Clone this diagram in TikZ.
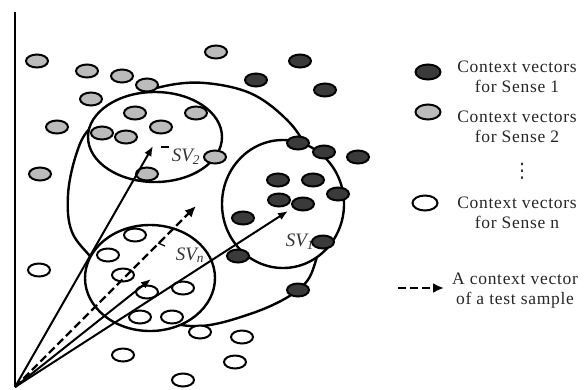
\documentclass[tikz,border=0pt]{standalone}
\usepackage{fontspec}
\setmainfont{Liberation Serif}
\newfontfamily\symfont{DejaVu Sans}
\usetikzlibrary{shapes.geometric,arrows.meta}
\definecolor{darkdot}{HTML}{3A3A3A}
\definecolor{graydot}{HTML}{BBBBBB}
\tikzset{
  dotbase/.style={ellipse, draw=black, line width=2pt, minimum width=22pt, minimum height=13pt, inner sep=0pt},
  dk/.style={dotbase, fill=darkdot},
  gr/.style={dotbase, fill=graydot},
  wh/.style={dotbase, fill=white},
  bigdot/.style={minimum width=25pt, minimum height=15pt},
  ring/.style={draw=black, line width=2.4pt, fill=white},
  vec/.style={line width=2pt, -{Latex[length=10pt,width=8pt]}},
  tvec/.style={line width=2.4pt, dash pattern=on 8pt off 4pt, -{Latex[length=11pt,width=10pt]}},
  svlab/.style={font=\fontsize{19}{19}\selectfont\itshape, inner sep=0pt, text=black!80},
  legtext/.style={font=\fontsize{17.5}{20}\selectfont\addfontfeature{LetterSpace=4}, align=center, inner sep=0pt, text=black!85}
}
\begin{document}
\begin{tikzpicture}[x=1pt,y=-1pt]
\useasboundingbox (0,0) rectangle (588,389);
% axis
\coordinate (axtop) at (15,12);
\coordinate (O) at (15,387);
\draw[line width=2.4pt] (axtop) -- (O);
% big envelope
\draw[line width=2.4pt] plot[smooth cycle, tension=0.6] coordinates {(68,195) (76,155) (90,128) (125,100) (165,86) (205,83) (250,93) (284,117) (305,145) (326,195) (316,260) (298,290) (250,314) (190,326) (130,305) (95,262) (72,232)};
% cluster rings
\node[ring, ellipse, minimum width=134pt, minimum height=90pt] (c2) at (155,137) {};
\node[ring, ellipse, minimum width=122pt, minimum height=128pt] (c1) at (283,204) {};
\node[ring, ellipse, minimum width=130pt, minimum height=106pt] (cn) at (150,278) {};
% SV labels
\node[svlab] (lsv2) at (186,157) {SV\textsubscript{2}};
\node[svlab] (lsvn) at (190,255) {SV\textsubscript{n}};
\node[svlab] (lsv1) at (300,242) {SV\textsubscript{1}};
\coordinate (t2a) at (161,147); \coordinate (t2b) at (169,147);
\draw[line width=1.2pt] (t2a) -- (t2b);
\coordinate (tna) at (158,243); \coordinate (tnb) at (165,246);
\draw[line width=1.2pt] (tna) -- (tnb);
% gray dots
\node[gr] (g1) at (37,61) {};
\node[gr] (g2) at (87,71) {};
\node[gr] (g3) at (122,76) {};
\node[gr] (g4) at (147,85) {};
\node[gr] (g5) at (216,52) {};
\node[gr] (g6) at (91,99) {};
\node[gr] (g7) at (135,113) {};
\node[gr] (g8) at (196,113) {};
\node[gr] (g9) at (57,127) {};
\node[gr] (g10) at (102,133) {};
\node[gr] (g11) at (126,137) {};
\node[gr] (g12) at (161,127) {};
\node[gr] (g13) at (215,157) {};
\node[gr] (g14) at (147,174) {};
\node[gr] (g15) at (40,174) {};
% dark dots
\node[dk] (d1) at (300,61) {};
\node[dk] (d2) at (256,80) {};
\node[dk] (d3) at (325,90) {};
\node[dk] (d4) at (298,143) {};
\node[dk] (d5) at (324,152) {};
\node[dk] (d6) at (358,157) {};
\node[dk] (d7) at (278,180) {};
\node[dk] (d8) at (313,180) {};
\node[dk] (d9) at (338,194) {};
\node[dk] (d10) at (279,200) {};
\node[dk] (d11) at (303,204) {};
\node[dk] (d12) at (243,218) {};
\node[dk] (d13) at (323,242) {};
\node[dk] (d14) at (238,256) {};
\node[dk] (d15) at (298,290) {};
% white dots
\node[wh] (w1) at (135,235) {};
\node[wh] (w2) at (108,255) {};
\node[wh] (w3) at (39,270) {};
\node[wh] (w4) at (123,275) {};
\node[wh] (w5) at (147,292) {};
\node[wh] (w6) at (183,288) {};
\node[wh] (w7) at (140,317) {};
\node[wh] (w8) at (172,317) {};
\node[wh] (w9) at (200,332) {};
\node[wh] (w10) at (242,337) {};
\node[wh] (w11) at (123,355) {};
\node[wh] (w12) at (235,362) {};
\node[wh] (w13) at (183,380) {};
% vectors
\coordinate (sv2) at (153,146);
\coordinate (svn) at (151,279);
\coordinate (sv1) at (288,211);
\coordinate (test) at (196,206);
\draw[vec] (O) -- (sv2);
\draw[vec] (O) -- (svn);
\draw[vec] (O) -- (sv1);
\draw[tvec] (O) -- (test);
% legend
\node[dk, bigdot] (ld) at (428,72) {};
\node[legtext] (lt1) at (517,77) {Context vectors\\for Sense 1};
\node[gr, bigdot] (lg) at (428,112) {};
\node[legtext] (lt2) at (517,127) {Context vectors\\for Sense 2};
\node[inner sep=0pt, font=\symfont\fontsize{20}{20}\selectfont, text=black!80] (vd) at (522,171) {⋮};
\node[wh, bigdot] (lw) at (425,203) {};
\node[legtext] (ltn) at (517,213) {Context vectors\\for Sense n};
\coordinate (la) at (398,288);
\coordinate (lb) at (444,288);
\draw[tvec] (la) -- (lb);
\node[legtext] (ltt) at (515,291) {A context vector\\of a test sample};
\end{tikzpicture}
\end{document}
